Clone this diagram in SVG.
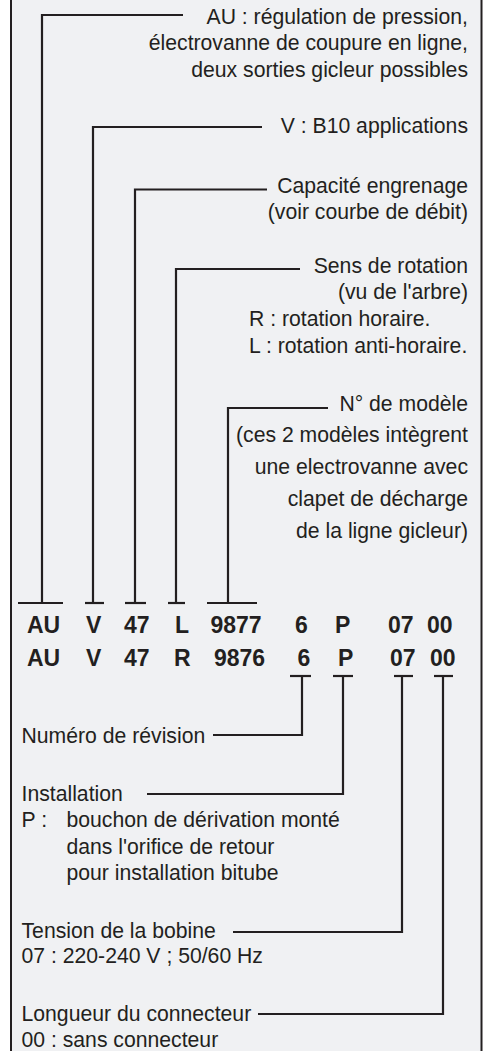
<svg xmlns="http://www.w3.org/2000/svg" width="486" height="1051" viewBox="0 0 486 1051">
<style>
.t{font-family:"Liberation Sans",Arial,sans-serif;font-size:21.2px;fill:#231f20}
.r{text-anchor:end}
.b{font-family:"Liberation Sans",Arial,sans-serif;font-size:23px;font-weight:bold;fill:#231f20}
.ln{fill:none;stroke:#231f20;stroke-width:2.2}
</style>
<rect width="486" height="1051" fill="#ffffff"/>
<rect id="frame" x="11" y="-10" width="470.5" height="1075" fill="#f0f1f3" stroke="#231f20" stroke-width="2"/>
<g id="connectors" class="ln">
<polyline points="183,15 42,15 42,603"/>
<line x1="18" y1="603" x2="63" y2="603"/>
<polyline points="262,127 93,127 93,603"/>
<line x1="85" y1="603" x2="104" y2="603"/>
<polyline points="267,189.5 135,189.5 135,603"/>
<line x1="125" y1="603" x2="146" y2="603"/>
<polyline points="300,269 176,269 176,603"/>
<line x1="168" y1="603" x2="185" y2="603"/>
<polyline points="328,408 228,408 228,603"/>
<line x1="207" y1="603" x2="257" y2="603"/>
<line x1="290" y1="676" x2="311" y2="676"/>
<polyline points="302,676 302,735 213,735"/>
<line x1="333" y1="676" x2="353" y2="676"/>
<polyline points="343,676 343,794 147,794"/>
<line x1="394" y1="676" x2="413" y2="676"/>
<polyline points="402,676 402,932 233,932"/>
<line x1="434" y1="676" x2="453" y2="676"/>
<polyline points="443,676 443,1014 258,1014"/>
</g>
<g id="node-au">
<text class="t r" x="468" y="24">AU : régulation de pression,</text>
<text class="t r" x="468" y="50">électrovanne de coupure en ligne,</text>
<text class="t r" x="468" y="77">deux sorties gicleur possibles</text>
</g>
<g id="node-v">
<text class="t r" x="468" y="133">V : B10 applications</text>
</g>
<g id="node-capacite">
<text class="t r" x="468" y="193">Capacité engrenage</text>
<text class="t r" x="468" y="219">(voir courbe de débit)</text>
</g>
<g id="node-sens">
<text class="t r" x="468" y="273">Sens de rotation</text>
<text class="t r" x="468" y="299">(vu de l'arbre)</text>
<text class="t" x="249" y="326">R : rotation horaire.</text>
<text class="t" x="249" y="353">L : rotation anti-horaire.</text>
</g>
<g id="node-modele">
<text class="t r" x="468" y="411">N° de modèle</text>
<text class="t r" x="468" y="442">(ces 2 modèles intègrent</text>
<text class="t r" x="468" y="474">une electrovanne avec</text>
<text class="t r" x="468" y="506">clapet de décharge</text>
<text class="t r" x="468" y="538">de la ligne gicleur)</text>
</g>
<g id="node-code1">
<text class="b" x="27" y="633">AU</text>
<text class="b" x="86" y="633">V</text>
<text class="b" x="124" y="633">47</text>
<text class="b" x="175" y="633">L</text>
<text class="b" x="210.5" y="633">9877</text>
<text class="b" x="295" y="633">6</text>
<text class="b" x="335" y="633">P</text>
<text class="b" x="388" y="633">07</text>
<text class="b" x="427" y="633">00</text>
</g>
<g id="node-code2">
<text class="b" x="27" y="666">AU</text>
<text class="b" x="86" y="666">V</text>
<text class="b" x="124" y="666">47</text>
<text class="b" x="174" y="666">R</text>
<text class="b" x="214" y="666">9876</text>
<text class="b" x="297.5" y="666">6</text>
<text class="b" x="338" y="666">P</text>
<text class="b" x="390" y="666">07</text>
<text class="b" x="430" y="666">00</text>
</g>
<g id="node-revision">
<text class="t" x="21.5" y="743">Numéro de révision</text>
</g>
<g id="node-installation">
<text class="t" x="21.5" y="801">Installation</text>
<text class="t" x="21.5" y="827">P :</text>
<text class="t" x="66.5" y="827">bouchon de dérivation monté</text>
<text class="t" x="66.5" y="854">dans l'orifice de retour</text>
<text class="t" x="66.5" y="880">pour installation bitube</text>
</g>
<g id="node-tension">
<text class="t" x="21.5" y="938">Tension de la bobine</text>
<text class="t" x="21.5" y="963">07 : 220-240 V ; 50/60 Hz</text>
</g>
<g id="node-longueur">
<text class="t" x="21.5" y="1021">Longueur du connecteur</text>
<text class="t" x="21.5" y="1047">00 : sans connecteur</text>
</g>
</svg>
